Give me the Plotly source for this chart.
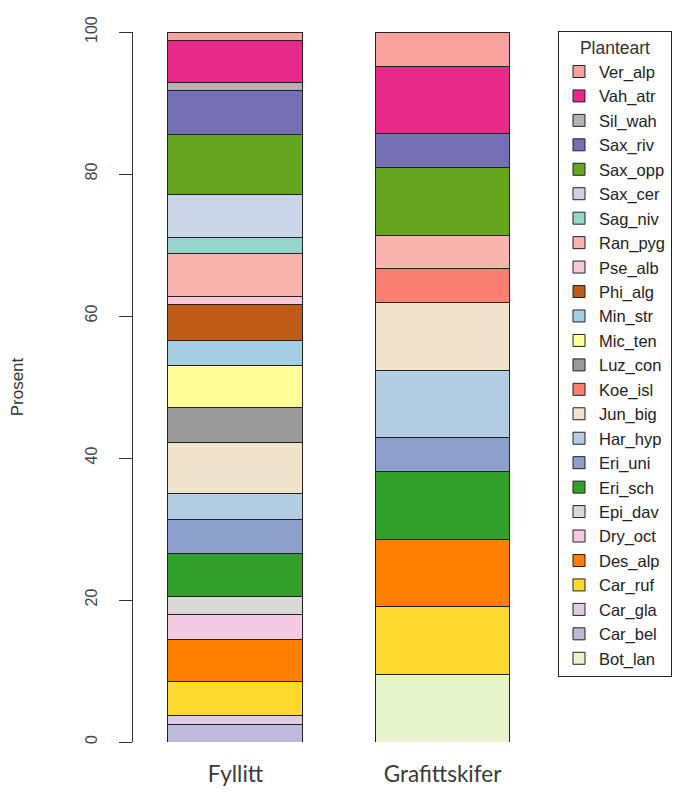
import plotly.graph_objects as go

sites = ["Fyllitt", "Grafittskifer"]

species = ["Bot_lan", "Car_bel", "Car_gla", "Car_ruf", "Des_alp", "Dry_oct",
           "Epi_dav", "Eri_sch", "Eri_uni", "Har_hyp", "Jun_big", "Koe_isl",
           "Luz_con", "Mic_ten", "Min_str", "Phi_alg", "Pse_alb", "Ran_pyg",
           "Sag_niv", "Sax_cer", "Sax_opp", "Sax_riv", "Sil_wah", "Vah_atr",
           "Ver_alp"]

fyllitt = [0.0, 2.5, 1.3, 4.7, 6.0, 3.5,
           2.5, 6.1, 4.8, 3.6, 7.2, 0.0,
           4.9, 5.9, 3.5, 5.1, 1.2, 6.0,
           2.3, 6.0, 8.5, 6.1, 1.2, 5.9,
           1.2]

grafittskifer = [9.52, 0.0, 0.0, 9.52, 9.52, 0.0,
                 0.0, 9.52, 4.76, 9.52, 9.52, 4.76,
                 0.0, 0.0, 0.0, 0.0, 0.0, 4.76,
                 0.0, 0.0, 9.52, 4.76, 0.0, 9.52,
                 4.76]

colors = ["#E6F5C9", "#BEBADA", "#DECBE4", "#FFD92F", "#FF7F00", "#F4CAE4",
          "#D9D9D9", "#33A02C", "#8DA0CB", "#B3CDE3", "#F1E2CC", "#FB8072",
          "#999999", "#FFFF99", "#A6CEE3", "#BF5B17", "#F9C9D8", "#FBB4AE",
          "#95D5CA", "#CBD5E8", "#66A61E", "#7570B3", "#B3B3B3", "#E7298A",
          "#F7A29C"]

y_ticks = [0, 20, 40, 60, 80, 100]

# the page body has an 8px margin; size the figure so it fills the window
W, H = 686, 785
L, R, T, B = 125, 136, 23.5, 50.5

fig = go.Figure()
for i, sp in enumerate(species):
    fig.add_trace(go.Bar(
        name=sp,
        x=sites,
        y=[fyllitt[i], grafittskifer[i]],
        width=0.652,
        marker=dict(color=colors[i], line=dict(color="#222222", width=1)),
    ))

fig.update_layout(
    width=W, height=H,
    margin=dict(l=L, r=R, t=T, b=B, autoexpand=False),
    barmode="stack",
    plot_bgcolor="white",
    paper_bgcolor="white",
    font=dict(family="Liberation Sans, Arial, sans-serif", color="#333333"),
    showlegend=True,
    legend=dict(
        title=dict(text="Planteart", side="top center",
                   font=dict(size=17.5, color="#333333")),
        traceorder="reversed",
        x=1.0, xanchor="left",
        y=1 + (T - 22) / (H - T - B), yanchor="top",
        maxheight=900,
        bordercolor="#222222", borderwidth=1,
        bgcolor="white",
        font=dict(size=16.5, color="#222222"),
        itemclick=False,
    ),
    xaxis=dict(
        range=[-0.495, 1.558],
        showline=False, showgrid=False, zeroline=False,
        ticks="",
        tickfont=dict(family="Lato, Open Sans, sans-serif", size=22.5, color="#3a3a3a"),
        ticklabelstandoff=16,
    ),
    yaxis=dict(
        range=[0, 100],
        tickvals=y_ticks,
        showline=True, linecolor="#333333", linewidth=1,
        showgrid=False, zeroline=False,
        ticks="outside", ticklen=13, tickcolor="#333333",
        tickangle=-90,
        tickfont=dict(size=16, color="#444444"),
        ticklabelstandoff=16,
        title=dict(text="Prosent", font=dict(size=17, color="#333333"), standoff=56),
        automargin=False,
    ),
)

fig.write_html("out.html")
